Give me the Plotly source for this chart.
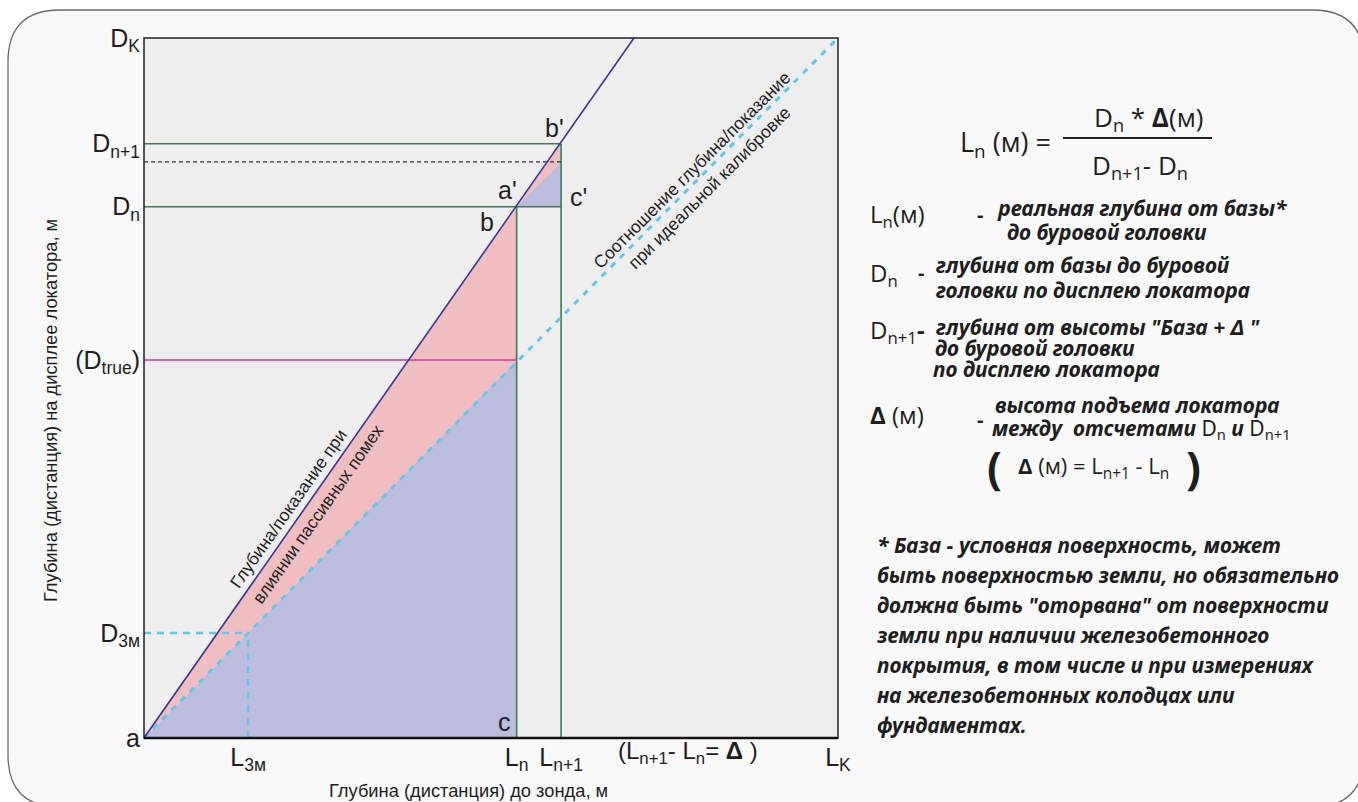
import plotly.graph_objects as go

# ---------------- data (axis units 0..100) ----------------
L_names = ["L_3m", "L_n", "L_n1", "L_K"]
L_values = [15.0, 53.7, 60.1, 100.0]
L_ticktext = ["L<sub>3м</sub>", "L<sub>n</sub>", "L<sub>n+1</sub>", "L<sub>K</sub>"]

D_names = ["a", "D_3m", "D_true", "D_n", "D_n1", "D_K"]
D_values = [0.0, 15.0, 54.0, 75.9, 84.9, 100.0]
D_ticktext = ["a", "D<sub>3м</sub>", "(D<sub>true</sub>)", "D<sub>n</sub>", "D<sub>n+1</sub>", "D<sub>K</sub>"]

NOISE_TOP_L = 70.6      # where the "noise" reading line leaves the top edge
D_MID = 82.3            # dashed level  D_n + (L_n+1 - L_n)

L = dict(zip(L_names, L_values))
D = dict(zip(D_names, D_values))

# ---------------- geometry of the page ----------------
W, H = 1358, 802
PL, PR, PT, PB = 144, 838, 38, 738


def px(x):
    return (x - PL) / (PR - PL)


def py(y):
    return (PB - y) / (PB - PT)


fig = go.Figure()

BLUE = "#3b3296"
GREEN = "#3d7a56"
MAGENTA = "#c23c9c"
CYAN = "#62c6e6"
PINK = "rgba(240,190,192,1)"
PURPLE = "rgba(188,188,222,1)"

# ---- filled regions ----
fig.add_trace(go.Scatter(x=[0, L["L_n"], L["L_n"], 0], y=[0, 0, D["D_true"], 0],
                         fill="toself", fillcolor=PURPLE, mode="none", hoverinfo="skip"))
fig.add_trace(go.Scatter(x=[0, L["L_n"], L["L_n"], 0], y=[0, D["D_n"], D["D_true"], 0],
                         fill="toself", fillcolor=PINK, mode="none", hoverinfo="skip"))
fig.add_trace(go.Scatter(x=[L["L_n"], L["L_n1"], L["L_n1"], L["L_n"]],
                         y=[D["D_n"], D["D_n"], D_MID, D["D_n"]],
                         fill="toself", fillcolor=PURPLE, mode="none", hoverinfo="skip"))
fig.add_trace(go.Scatter(x=[L["L_n"], L["L_n1"], L["L_n1"], L["L_n"]],
                         y=[D["D_n"], D_MID, D["D_n1"], D["D_n"]],
                         fill="toself", fillcolor=PINK, mode="none", hoverinfo="skip"))


def line(xs, ys, color, width, dash="solid"):
    fig.add_trace(go.Scatter(x=xs, y=ys, mode="lines", hoverinfo="skip",
                             line=dict(color=color, width=width, dash=dash)))


# green construction lines
line([0, L["L_n1"]], [D["D_n1"], D["D_n1"]], GREEN, 1.6)
line([0, L["L_n1"]], [D["D_n"], D["D_n"]], GREEN, 1.6)
line([L["L_n"], L["L_n"]], [0, D["D_n"]], GREEN, 1.6)
line([L["L_n1"], L["L_n1"]], [0, D["D_n1"]], GREEN, 1.6)
# magenta true-depth line
line([0, L["L_n"]], [D["D_true"], D["D_true"]], MAGENTA, 1.6)
# black dashed level
line([0, L["L_n1"]], [D_MID, D_MID], "#333333", 1.2, "4px,3px")
# ideal calibration line
line([0, L["L_K"]], [0, D["D_K"]], CYAN, 3, "6px,7px")
# 3 m helpers
line([0, L["L_3m"]], [D["D_3m"], D["D_3m"]], CYAN, 2.5, "7px,6px")
line([L["L_3m"], L["L_3m"]], [0, D["D_3m"]], CYAN, 2.5, "7px,6px")
# reading under passive interference
line([0, NOISE_TOP_L], [0, D["D_K"]], BLUE, 1.6)

# ---------------- background card and plot area ----------------
cl, ct, cr, cb, r = 8, 10, 1364, 807, 52
card = (f"M {px(cl)},{py(ct + r)} "
        f"Q {px(cl)},{py(ct)} {px(cl + r)},{py(ct)} "
        f"L {px(cr - r)},{py(ct)} "
        f"Q {px(cr)},{py(ct)} {px(cr)},{py(ct + r)} "
        f"L {px(cr)},{py(cb - r)} "
        f"Q {px(cr)},{py(cb)} {px(cr - r)},{py(cb)} "
        f"L {px(cl + r)},{py(cb)} "
        f"Q {px(cl)},{py(cb)} {px(cl)},{py(cb - r)} Z")
shapes = [
    dict(type="path", xref="paper", yref="paper", path=card, layer="below",
         fillcolor="#f9f9f9", line=dict(color="#6a6a6a", width=1.3)),
    dict(type="rect", xref="paper", yref="paper", x0=0, x1=1, y0=0, y1=1, layer="below",
         fillcolor="#eeeeee", line=dict(width=0)),
    dict(type="rect", xref="paper", yref="paper", x0=0, x1=1, y0=0, y1=1, layer="above",
         fillcolor="rgba(0,0,0,0)", line=dict(color="#222222", width=1.5)),
    dict(type="line", xref="paper", yref="paper", x0=0, x1=1, y0=0, y1=0, layer="above",
         line=dict(color="#111111", width=2.6)),
    # fraction bar
    dict(type="line", xref="paper", yref="paper", x0=px(1063), x1=px(1212), y0=py(138), y1=py(138),
         line=dict(color="#222222", width=2)),
]

ann = []
ARIAL = "Liberation Sans, Arial, sans-serif"
NARROW = "Liberation Sans Narrow, Arial Narrow, Liberation Sans, sans-serif"
SANS = "Open Sans, Noto Sans, sans-serif"
ITAL = "Noto Sans, Open Sans, sans-serif"
TXT = "#1e1e1e"


def a_px(text, x, y, size, family=ARIAL, xanchor="center", angle=0, yanchor="middle"):
    ann.append(dict(text=text, x=px(x), y=py(y), xref="paper", yref="paper", showarrow=False,
                    xanchor=xanchor, yanchor=yanchor, textangle=angle,
                    font=dict(family=family, size=size, color=TXT)))


def a_data(text, x, y, dx, dy, size=25):
    ann.append(dict(text=text, x=x, y=y, xref="x", yref="y", showarrow=False,
                    xshift=dx, yshift=dy, font=dict(family=ARIAL, size=size, color=TXT)))


# point labels
a_data("b'", L["L_n1"], D["D_n1"], -7, 16)
a_data("a'", L["L_n"], D["D_n"], -9, 17)
a_data("c'", L["L_n1"], D["D_n"], 17, 10)
a_data("b", L["L_n"], D["D_n"], -30, -15)
a_data("c", L["L_n"], 0, -12, 16)

# axis titles
a_px("Глубина (дистанция) на дисплее локатора, м", 50, 411, 18.3, NARROW, angle=-90)
a_px("Глубина (дистанция) до зонда, м", 468, 790, 18.3, NARROW)
a_px("(L<sub>n+1</sub>- L<sub>n</sub>= <b>Δ</b> )", 688, 752, 24)

# rotated line captions
a_px("Глубина/показание при", 288, 509, 17.5, NARROW, angle=-55)
a_px("влиянии пассивных помех", 318, 514, 17.5, NARROW, angle=-55)
a_px("Соотношение глубина/показание", 692, 170, 17.5, NARROW, angle=-45)
a_px("при идеальной калибровке", 709, 188, 17.5, NARROW, angle=-45)

# formula
a_px("L<sub>n</sub> (м) =", 1053, 143, 27, SANS, xanchor="right")
a_px("D<sub>n</sub> * <b>Δ</b>(м)", 1148, 118, 26, SANS)
a_px("D<sub>n+1</sub>- D<sub>n</sub>", 1140, 166, 26, SANS)


def bi(t):
    return f"<b><i>{t}</i></b>"


FS = 21
a_px("L<sub>n</sub>(м)", 868, 215, 24, SANS, xanchor="left")
a_px("<b>-</b>", 980, 214, 20, SANS)
a_px(bi("реальная глубина от базы*"), 995, 208, FS, ITAL, xanchor="left")
a_px(bi("до буровой головки"), 1005, 232, FS, ITAL, xanchor="left")

a_px("D<sub>n</sub>", 868, 274, 24, SANS, xanchor="left")
a_px("<b>-</b>", 921, 272, 20, SANS)
a_px(bi("глубина от базы до буровой"), 933, 265, FS, ITAL, xanchor="left")
a_px(bi("головки по дисплею локатора"), 933, 290, FS, ITAL, xanchor="left")

a_px("D<sub>n+1</sub><b>-</b>", 868, 331, 24, SANS, xanchor="left")
a_px(bi("глубина от высоты \"База + <b>Δ</b> \""), 933, 327, FS, ITAL, xanchor="left")
a_px(bi("до буровой головки"), 933, 348, FS, ITAL, xanchor="left")
a_px(bi("по дисплею локатора"), 931, 369, FS, ITAL, xanchor="left")

a_px("<b>Δ</b> (м)", 868, 414, 24, SANS, xanchor="left")
a_px("<b>-</b>", 980, 419, 20, SANS)
a_px(bi("высота подъема локатора"), 993, 405, FS, ITAL, xanchor="left")
a_px(bi("между  отсчетами ") + "D<sub>n</sub>" + bi(" и ") + "D<sub>n+1</sub>", 990, 429, FS, ITAL,
     xanchor="left")

a_px("<b>(</b>", 994, 467, 44, SANS)
a_px("<b>Δ</b> (м) = L<sub>n+1</sub> - L<sub>n</sub>", 1093, 467, 22, SANS)
a_px("<b>)</b>", 1193, 467, 44, SANS)

foot = ["* База - условная поверхность, может",
        "быть поверхностью земли, но обязательно",
        "должна быть \"оторвана\" от поверхности",
        "земли при наличии железобетонного",
        "покрытия, в том числе и при измерениях",
        "на железобетонных колодцах или",
        "фундаментах."]
for i, t in enumerate(foot):
    a_px(bi(t), 875, 545 + i * 30, FS, ITAL, xanchor="left")

fig.update_layout(
    width=W, height=H,
    margin=dict(l=PL, r=W - PR, t=PT, b=H - PB, pad=0),
    paper_bgcolor="white", plot_bgcolor="rgba(0,0,0,0)",
    showlegend=False,
    shapes=shapes, annotations=ann,
    xaxis=dict(range=[0, 100], showgrid=False, zeroline=False, showline=False,
               tickmode="array", tickvals=L_values, ticktext=L_ticktext, ticks="",
               ticklabelstandoff=2,
               tickfont=dict(family=ARIAL, size=25, color=TXT)),
    yaxis=dict(range=[0, 100], showgrid=False, zeroline=False, showline=False,
               tickmode="array", tickvals=D_values, ticktext=D_ticktext, ticks="",
               ticklabelstandoff=3,
               tickfont=dict(family=ARIAL, size=25, color=TXT)),
)

fig.write_html("out.html", config={"displayModeBar": False},
               post_script="document.body.style.margin='0';document.body.style.overflow='hidden';")
